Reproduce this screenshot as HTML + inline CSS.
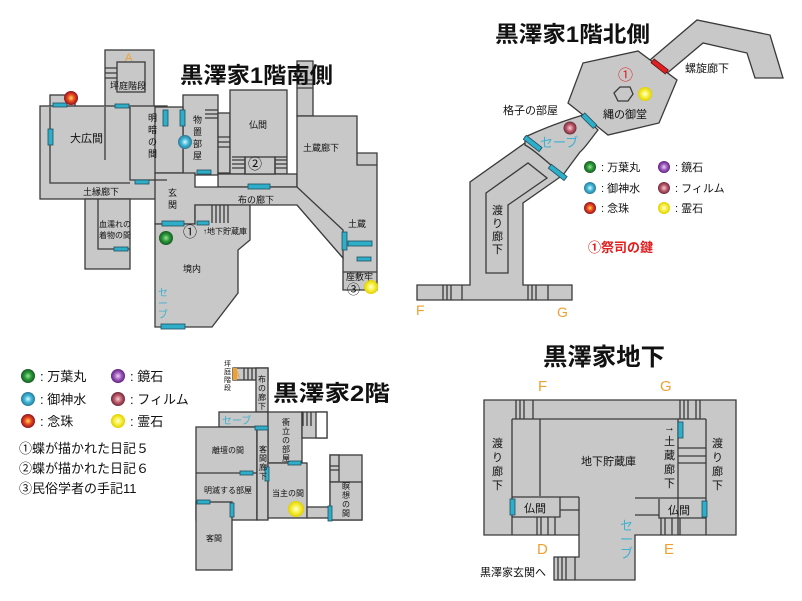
<!DOCTYPE html>
<html><head><meta charset="utf-8"><style>
body{margin:0;background:#fff;width:802px;height:601px;overflow:hidden}
svg{display:block}
text{font-family:"Liberation Sans","Noto Sans CJK JP",sans-serif;fill:#111}
.r{fill:#c8c8c8;stroke:#3a3a3a;stroke-width:1.3}
.l{fill:none;stroke:#3a3a3a;stroke-width:1.3}
.d{fill:#2eaec8;stroke:#1e4f60;stroke-width:0.8}
.s{font-size:9px}
.m{font-size:11px}
.t{font-size:22px;font-weight:bold}
.o{fill:#f0a030}
.b{fill:#40b0d0}
</style></head><body>
<svg width="802" height="601" viewBox="0 0 802 601">
<defs>
<radialGradient id="gG"><stop offset="0" stop-color="#9be39b"/><stop offset=".5" stop-color="#2a9a3a"/><stop offset="1" stop-color="#1a5a22"/></radialGradient>
<radialGradient id="gB"><stop offset="0" stop-color="#e0f8ff"/><stop offset=".5" stop-color="#40b8d8"/><stop offset="1" stop-color="#2a7a98"/></radialGradient>
<radialGradient id="gR"><stop offset="0" stop-color="#ffe060"/><stop offset=".45" stop-color="#f05020"/><stop offset="1" stop-color="#901020"/></radialGradient>
<radialGradient id="gP"><stop offset="0" stop-color="#f0d0f8"/><stop offset=".5" stop-color="#a060c0"/><stop offset="1" stop-color="#602080"/></radialGradient>
<radialGradient id="gF"><stop offset="0" stop-color="#f8d0d8"/><stop offset=".5" stop-color="#c06070"/><stop offset="1" stop-color="#702838"/></radialGradient>
<radialGradient id="gY"><stop offset="0" stop-color="#ffffe0"/><stop offset=".5" stop-color="#f8f040"/><stop offset="1" stop-color="#e0d000"/></radialGradient>
</defs>

<!-- ===== 1F South ===== -->
<rect class="r" x="105" y="50" width="49" height="57"/>
<rect class="l" x="117" y="62" width="28" height="30"/>
<path class="l" d="M105 68h12M105 73h12M105 78h12"/>
<rect class="r" x="50" y="95" width="25" height="12"/>
<rect class="r" x="40" y="106" width="127" height="93"/>
<rect class="r" x="183" y="95" width="35" height="80"/>
<rect class="r" x="155" y="107" width="28" height="66"/>
<rect class="r" x="218" y="113" width="12" height="60"/>
<path class="l" d="M205 110h13M205 114h13M205 118h13M218 137h12M218 142h12M218 147h12"/>
<rect class="r" x="230" y="90" width="57" height="84"/>
<rect class="r" x="218" y="174" width="79" height="13"/>
<rect class="r" x="245" y="157" width="30" height="17"/>
<path class="l" d="M232 157h13v17M275 174v-17h12M232 160h13M232 164h13M232 168h13M275 160h12M275 164h12M275 168h12"/>
<rect class="r" x="297" y="61" width="16" height="55"/>
<path class="l" d="M297 80h16M297 84h16M297 88h16"/>
<polygon class="r" points="297,116 357,116 357,153 377,153 377,290 343,290 343,258 297,205"/>
<path class="l" d="M357 153v12h20M343 272h34"/>
<polygon class="r" points="155,173 195,173 195,187 297,187 343,230 343,258 297,205 195,205 195,224 155,224"/>
<polygon class="r" points="155,224 195,224 195,205 250,205 250,240 238,250 238,293 212,327 155,327"/>
<path class="l" d="M212 205v18M216 205v18M220 205v18M224 205v18M228 205v18"/>
<rect class="r" x="85" y="199" width="45" height="70"/>
<path class="l" d="M98 199v50h32M50 107v76h80M105 107v53M130 107v73h37"/>
<!-- doors -->
<rect class="d" x="53" y="103" width="14" height="4"/>
<rect class="d" x="48" y="129" width="5" height="16"/>
<rect class="d" x="115" y="104" width="14" height="4"/>
<rect class="d" x="163" y="110" width="5" height="16"/>
<rect class="d" x="180" y="110" width="5" height="16"/>
<rect class="d" x="135" y="180" width="14" height="4"/>
<rect class="d" x="197" y="170" width="14" height="4"/>
<rect class="d" x="248" y="184" width="22" height="5"/>
<rect class="d" x="162" y="221" width="22" height="5"/>
<rect class="d" x="197" y="221" width="12" height="4"/>
<rect class="d" x="114" y="247" width="14" height="4"/>
<rect class="d" x="342" y="232" width="5" height="18"/>
<rect class="d" x="348" y="241" width="24" height="5"/>
<rect class="d" x="357" y="257" width="14" height="4"/>
<rect class="d" x="161" y="324" width="24" height="5"/>
<!-- labels -->
<text x="125" y="61" class="o" font-size="11">A</text>
<text x="110" y="89" class="s">坪庭階段</text>
<text x="70" y="142" class="m">大広間</text>
<text class="s" x="148" y="121">明</text><text class="s" x="148" y="133">暗</text><text class="s" x="148" y="145">の</text><text class="s" x="148" y="157">間</text>
<text class="s" x="193" y="123">物</text><text class="s" x="193" y="135">置</text><text class="s" x="193" y="147">部</text><text class="s" x="193" y="159">屋</text>
<text x="249" y="128" class="s">仏間</text>
<text x="248" y="169" font-size="14">②</text>
<text x="303" y="151" class="s">土蔵廊下</text>
<text x="83" y="195" class="s">土縁廊下</text>
<text class="s" x="168" y="196">玄</text><text class="s" x="168" y="208">関</text>
<text x="238" y="203" class="s">布の廊下</text>
<text x="348" y="227" class="s">土蔵</text>
<text x="346" y="280" class="s">座敷牢</text>
<text x="347" y="294" font-size="13">③</text>
<text x="99" y="227" font-size="8">血濡れの</text><text x="99" y="238" font-size="8">着物の間</text>
<text x="183" y="237" font-size="14">①</text>
<text x="203" y="234" font-size="8">↑地下貯蔵庫</text>
<text x="183" y="272" class="s">境内</text>
<text class="b" font-size="10" x="158" y="296">セ</text><text class="b" font-size="10" x="158" y="307">ー</text><text class="b" font-size="10" x="158" y="318">ブ</text>
<text x="180" y="83" class="t" textLength="153" lengthAdjust="spacingAndGlyphs">黒澤家1階南側</text>
<circle cx="71" cy="98" r="7" fill="url(#gR)"/>
<circle cx="185" cy="142" r="7" fill="url(#gB)"/>
<circle cx="166" cy="238" r="7" fill="url(#gG)"/>
<circle cx="371" cy="287" r="7" fill="url(#gY)"/>

<!-- ===== 1F North ===== -->
<polygon class="r" points="650,60 697,20 770,35 783,78 755,78 747,53 703,43 665,75"/>
<polygon class="r" points="583,63 638,51 677,80 659,123 608,135 568,103"/>
<polygon class="r" points="417,285 470,285 470,182 525,143 563,175 523,203 523,285 572,285 572,300 417,300"/>
<path class="r" d="M525,137 C540,130 560,122 583,115 L598,130 C590,140 585,148 580,152 L563,175 C550,165 535,150 525,145 Z"/>
<polygon class="l" points="486,193 528,163 547,178 508,205 508,273 486,273"/>
<polygon class="l" points="614,93 620,87 630,87 633,94 628,101 618,101"/>
<path class="l" d="M443,285v15M447,285v15M451,285v15M462,285v15M528,285v15M532,285v15M536,285v15M548,285v15"/>
<rect class="d" x="523" y="141" width="20" height="5" transform="rotate(38 533 143)"/>
<rect class="d" x="548" y="170" width="20" height="5" transform="rotate(38 558 172)"/>
<rect class="d" x="581" y="118" width="17" height="5" transform="rotate(45 589 120)"/>
<rect style="fill:#e02020;stroke:#601010;stroke-width:.8" x="651" y="64" width="18" height="5" transform="rotate(38 660 66)"/>
<text x="495" y="42" class="t" textLength="155" lengthAdjust="spacingAndGlyphs">黒澤家1階北側</text>
<text x="618" y="80" font-size="15" style="fill:#e02020">①</text>
<text x="603" y="118" class="m">縄の御堂</text>
<text x="685" y="72" class="m">螺旋廊下</text>
<text x="503" y="114" class="m">格子の部屋</text>
<text x="540" y="147" class="b" font-size="13">セーブ</text>
<text class="m" x="492" y="214">渡</text><text class="m" x="492" y="227">り</text><text class="m" x="492" y="240">廊</text><text class="m" x="492" y="253">下</text>
<text x="416" y="315" class="o" font-size="14">F</text>
<text x="557" y="317" class="o" font-size="14">G</text>
<circle cx="645" cy="94" r="7" fill="url(#gY)"/>
<circle cx="570" cy="128" r="6.5" fill="url(#gF)"/>
<circle cx="590" cy="167" r="6" fill="url(#gG)"/><text x="601" y="171" class="m">: 万葉丸</text>
<circle cx="590" cy="188" r="6" fill="url(#gB)"/><text x="601" y="192" class="m">: 御神水</text>
<circle cx="590" cy="208" r="6" fill="url(#gR)"/><text x="601" y="212" class="m">: 念珠</text>
<circle cx="664" cy="167" r="6" fill="url(#gP)"/><text x="675" y="171" class="m">: 鏡石</text>
<circle cx="664" cy="188" r="6" fill="url(#gF)"/><text x="675" y="192" class="m">: フィルム</text>
<circle cx="664" cy="208" r="6" fill="url(#gY)"/><text x="675" y="212" class="m">: 霊石</text>
<text x="588" y="252" font-size="13" font-weight="bold" style="fill:#e02020">①祭司の鍵</text>

<!-- ===== Left legend ===== -->
<circle cx="28" cy="376" r="7" fill="url(#gG)"/><text x="40" y="381" font-size="13">: 万葉丸</text>
<circle cx="28" cy="399" r="7" fill="url(#gB)"/><text x="40" y="404" font-size="13">: 御神水</text>
<circle cx="28" cy="421" r="7" fill="url(#gR)"/><text x="40" y="426" font-size="13">: 念珠</text>
<circle cx="118" cy="376" r="7" fill="url(#gP)"/><text x="130" y="381" font-size="13">: 鏡石</text>
<circle cx="118" cy="399" r="7" fill="url(#gF)"/><text x="130" y="404" font-size="13">: フィルム</text>
<circle cx="118" cy="421" r="7" fill="url(#gY)"/><text x="130" y="426" font-size="13">: 霊石</text>
<text x="19" y="453" font-size="13">①蝶が描かれた日記５</text>
<text x="19" y="473" font-size="13">②蝶が描かれた日記６</text>
<text x="19" y="493" font-size="13">③民俗学者の手記11</text>

<!-- ===== 2F ===== -->
<rect class="r" x="233" y="368" width="35" height="12"/>
<rect x="233" y="368" width="4" height="12" style="fill:#f0a030"/>
<path class="l" d="M244 368v12M248 368v12M252 368v12M256 368v12"/>
<rect class="r" x="256" y="368" width="12" height="44"/>
<rect class="r" x="219" y="412" width="49" height="15"/>
<rect class="r" x="268" y="412" width="34" height="51"/>
<rect class="r" x="302" y="412" width="25" height="26"/>
<rect class="l" x="316" y="412" width="11" height="26" style="fill:#fff"/>
<path class="l" d="M303 412v14M307 412v14M311 412v14"/>
<rect class="r" x="196" y="427" width="61" height="93"/>
<path class="l" d="M196 473h61M257 427v93"/>
<rect class="r" x="257" y="427" width="11" height="93"/>
<rect class="r" x="196" y="502" width="36" height="68"/>
<rect class="r" x="268" y="463" width="39" height="55"/>
<rect class="r" x="307" y="507" width="23" height="11"/>
<rect class="r" x="330" y="455" width="32" height="65"/>
<rect class="r" x="330" y="455" width="9" height="27"/>
<path class="l" d="M330 466h9M330 470h9"/>
<rect class="r" x="330" y="482" width="32" height="38"/>
<rect class="d" x="255" y="426" width="13" height="4"/>
<rect class="d" x="288" y="461" width="13" height="4"/>
<rect class="d" x="240" y="471" width="13" height="4"/>
<rect class="d" x="265" y="467" width="4" height="14"/>
<rect class="d" x="197" y="500" width="13" height="4"/>
<rect class="d" x="230" y="503" width="4" height="14"/>
<rect class="d" x="328" y="506" width="4" height="15"/>
<text x="234" y="378" class="o" font-size="9">A</text>
<text font-size="7" x="224" y="366">坪</text><text font-size="7" x="224" y="374">庭</text><text font-size="7" x="224" y="382">階</text><text font-size="7" x="224" y="390">段</text>
<text font-size="8" x="258" y="382">布</text><text font-size="8" x="258" y="391">の</text><text font-size="8" x="258" y="400">廊</text><text font-size="8" x="258" y="409">下</text>
<text x="273" y="401" class="t" textLength="117" lengthAdjust="spacingAndGlyphs">黒澤家2階</text>
<text x="222" y="424" class="b" font-size="10">セーブ</text>
<text font-size="8" x="282" y="425">衝</text><text font-size="8" x="282" y="434">立</text><text font-size="8" x="282" y="443">の</text><text font-size="8" x="282" y="452">部</text><text font-size="8" x="282" y="461">屋</text>
<text x="212" y="453" font-size="8">離壇の間</text>
<text font-size="8" x="259" y="452">客</text><text font-size="8" x="259" y="461">間</text><text font-size="8" x="259" y="470">廊</text><text font-size="8" x="259" y="479">下</text>
<text x="204" y="493" font-size="8">明滅する部屋</text>
<text x="272" y="496" font-size="8">当主の間</text>
<text font-size="8" x="342" y="489">瞑</text><text font-size="8" x="342" y="498">想</text><text font-size="8" x="342" y="507">の</text><text font-size="8" x="342" y="516">間</text>
<text x="206" y="541" font-size="8">客間</text>
<circle cx="296" cy="509" r="8" fill="url(#gY)"/>

<!-- ===== Basement ===== -->
<polygon class="r" points="484,400 736,400 736,535 635,535 635,580 554,580 554,557 579,557 579,535 484,535"/>
<path class="l" d="M512 419h194M512 419v116M540 419v77M678 419v116M706 419v116"/>
<path class="l" d="M516 400v19M520 400v19M524 400v19M533 400v19M680 400v19M684 400v19M688 400v19M696 400v19M700 400v19"/>
<path class="l" d="M512 497h67M560 497v20h-48M560 510h19M579 497v38"/>
<path class="l" d="M537 517v18M541 517v18M548 517v18M555 517v18"/>
<path class="l" d="M635 498h71M659 499v19h47M635 515h24M661 518v17M665 518v17M672 518v17M680 518v17"/>
<path class="l" d="M678 448h28M678 456h28M678 463h28"/>
<path class="l" d="M558 557v23M562 557v23M566 557v23M575 557v23"/>
<rect class="d" x="510" y="499" width="5" height="16"/>
<rect class="d" x="678" y="422" width="5" height="16"/>
<rect class="d" x="702" y="501" width="5" height="16"/>
<text x="543" y="365" class="t" style="font-size:24px" textLength="122" lengthAdjust="spacingAndGlyphs">黒澤家地下</text>
<text x="538" y="391" class="o" font-size="15">F</text>
<text x="660" y="391" class="o" font-size="15">G</text>
<text x="581" y="465" class="m">地下貯蔵庫</text>
<text class="m" x="492" y="447">渡</text><text class="m" x="492" y="461">り</text><text class="m" x="492" y="475">廊</text><text class="m" x="492" y="489">下</text>
<text class="m" x="712" y="447">渡</text><text class="m" x="712" y="461">り</text><text class="m" x="712" y="475">廊</text><text class="m" x="712" y="489">下</text>
<text class="m" x="664" y="431">→</text><text class="m" x="664" y="445">土</text><text class="m" x="664" y="459">蔵</text><text class="m" x="664" y="473">廊</text><text class="m" x="664" y="487">下</text>
<text x="524" y="512" class="m">仏間</text>
<text x="668" y="514" class="m">仏間</text>
<text class="b" font-size="13" x="620" y="530">セ</text><text class="b" font-size="13" x="620" y="544">ー</text><text class="b" font-size="13" x="620" y="558">ブ</text>
<text x="537" y="554" class="o" font-size="15">D</text>
<text x="664" y="554" class="o" font-size="15">E</text>
<text x="480" y="576" class="m">黒澤家玄関へ</text>
</svg>
</body></html>
